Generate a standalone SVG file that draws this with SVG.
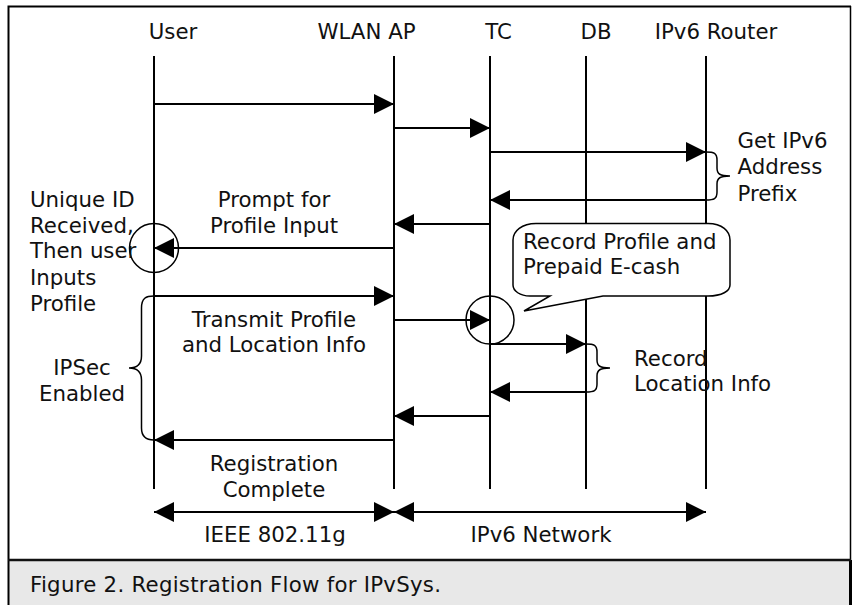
<svg xmlns="http://www.w3.org/2000/svg" width="856" height="605" viewBox="0 0 856 605">
<style>
text{font-family:"DejaVu Sans",Verdana,sans-serif;font-size:21.3px;fill:#111}
.m{text-anchor:middle}
.l{fill:none;stroke:#000;stroke-width:2}
.c{fill:none;stroke:#000;stroke-width:1.5}
</style>
<defs>
<marker id="a" markerUnits="userSpaceOnUse" markerWidth="20" markerHeight="20" refX="20" refY="10" orient="auto-start-reverse"><path d="M0 0L20 10L0 20Z" fill="#000"/></marker>
</defs>
<rect width="856" height="605" fill="#fff"/>
<g id="frame">
<rect x="9" y="560" width="841" height="45" fill="#e8e8e8"/>
<path d="M8.5 605V6.500H851" class="l"/>
<path d="M850.5 6V560" fill="none" stroke="#000" stroke-width="1.5"/>
<path d="M850.5 560V605" fill="none" stroke="#000" stroke-width="3"/>
<path d="M8 560H851" fill="none" stroke="#111" stroke-width="2.5"/>
</g>
<g id="connectors">
<path class="l" d="M154 56V489M394 56V489M490 56V489M586 56V489M706 56V489"/>
<path class="l" marker-end="url(#a)" d="M154 104H394"/>
<path class="l" marker-end="url(#a)" d="M394 128H490"/>
<path class="l" marker-end="url(#a)" d="M490 152H706"/>
<path class="l" marker-end="url(#a)" d="M706 200H490"/>
<path class="l" marker-end="url(#a)" d="M490 224H394"/>
<path class="l" marker-end="url(#a)" d="M394 248H154"/>
<path class="l" marker-end="url(#a)" d="M154 296H394"/>
<path class="l" marker-end="url(#a)" d="M394 320H490"/>
<path class="l" marker-end="url(#a)" d="M490 344H586"/>
<path class="l" marker-end="url(#a)" d="M586 392H490"/>
<path class="l" marker-end="url(#a)" d="M490 416H394"/>
<path class="l" marker-end="url(#a)" d="M394 440H154"/>
<path class="l" marker-start="url(#a)" marker-end="url(#a)" d="M154 512H394"/>
<path class="l" marker-start="url(#a)" marker-end="url(#a)" d="M394 512H706"/>
<path class="c" d="M706 152C714 152 717 153 717 160V168C717 174 720 176 730 176C720 176 717 178 717 184V192C717 199 714 200 706 200"/>
<path class="c" d="M586 344C594 344 597 345 597 352V360C597 366 600 368 610 368C600 368 597 370 597 376V384C597 391 594 392 586 392"/>
<path class="c" d="M154 296C146 296 141.500 298 141.500 308V356C141.500 364 138 368 129 368C138 368 141.500 372 141.500 380V428C141.500 436 146 440 154 440"/>
</g>
<g id="circle-user"><circle cx="154" cy="248" r="24.500" class="c"/></g>
<g id="circle-tc"><circle cx="490" cy="320" r="24" class="c"/></g>
<g id="callout">
<path d="M524 311L550 296H530C520 296 513 291 513 285V240C513 231 522 223.500 536 223.500H708C722 223.500 730 231 730 240V285C730 291 722 296 708 296H603Z" fill="#fff" stroke="#000" stroke-width="1.500"/>
<text x="523" y="249">Record Profile and</text>
<text x="523" y="274">Prepaid E-cash</text>
</g>
<g id="labels">
<text class="m" x="173" y="39">User</text>
<text class="m" x="366.500" y="39">WLAN AP</text>
<text class="m" x="498.500" y="39">TC</text>
<text class="m" x="596" y="39">DB</text>
<text class="m" x="716" y="39">IPv6 Router</text>
<text x="737.500" y="148">Get IPv6</text>
<text x="737.500" y="174">Address</text>
<text x="737.500" y="201">Prefix</text>
<text x="30" y="206.500">Unique ID</text>
<text x="30" y="232.500">Received,</text>
<text x="30" y="258">Then user</text>
<text x="30" y="285">Inputs</text>
<text x="30" y="310.500">Profile</text>
<text class="m" x="274" y="206.500">Prompt for</text>
<text class="m" x="274" y="232.500">Profile Input</text>
<text class="m" x="274" y="326.500">Transmit Profile</text>
<text class="m" x="274" y="352">and Location Info</text>
<text class="m" x="82" y="375">IPSec</text>
<text class="m" x="82" y="401">Enabled</text>
<text x="634" y="366">Record</text>
<text x="634" y="391">Location Info</text>
<text class="m" x="274" y="471">Registration</text>
<text class="m" x="274" y="497">Complete</text>
<text class="m" x="275" y="542">IEEE 802.11g</text>
<text class="m" x="541" y="542">IPv6 Network</text>
<text x="30" y="591.500" textLength="411">Figure 2. Registration Flow for IPvSys.</text>
</g>
</svg>
